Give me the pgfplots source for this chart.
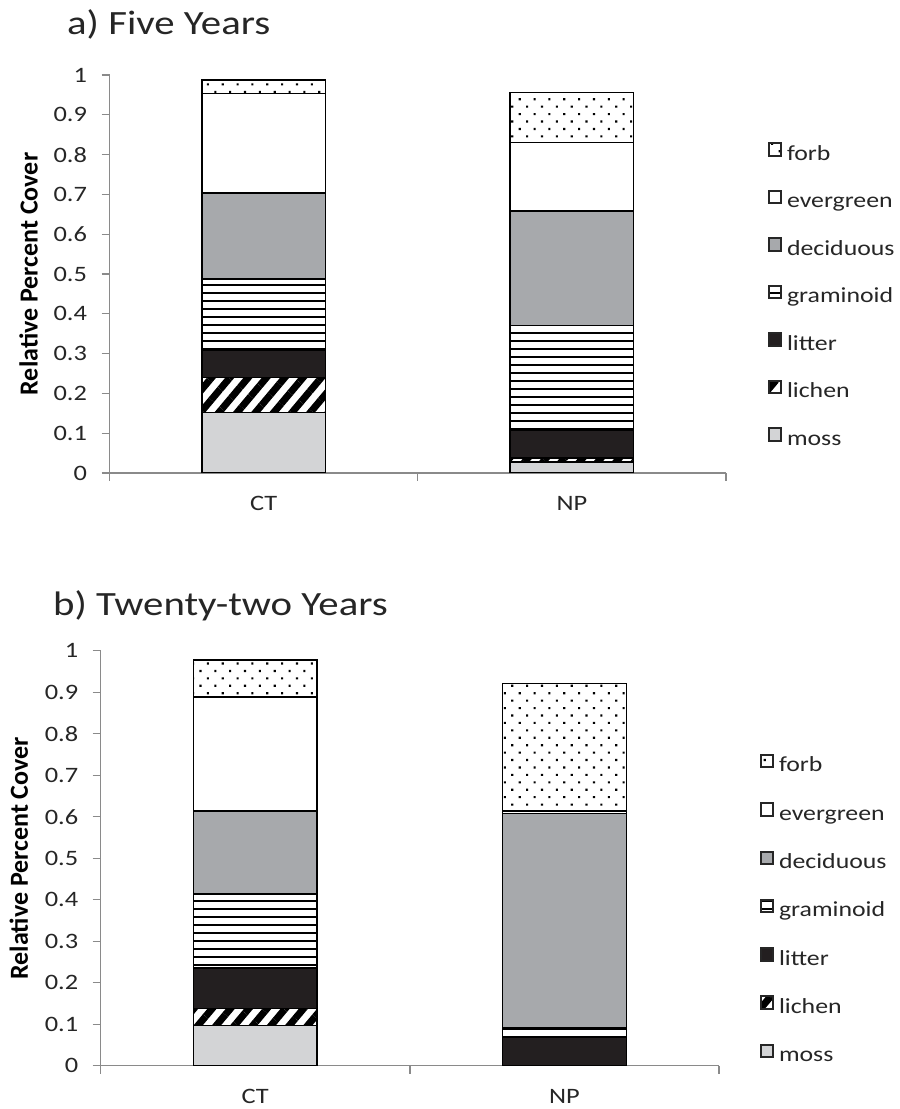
\documentclass[border=0pt]{standalone}
\usepackage{pgfplots}
\pgfplotsset{compat=1.18}
\usepackage{fontspec}
\setmainfont{Carlito}[FakeStretch=1.2]
\newfontfamily\labfont{Carlito}
\usetikzlibrary{patterns.meta}
\definecolor{decid}{HTML}{A7A9AC}
\definecolor{mossc}{HTML}{D3D4D6}
\definecolor{litc}{HTML}{231F20}
\definecolor{axc}{HTML}{8A8A8A}
\pgfplotsset{
  leg/.style={legend image code/.code={\draw[##1, line width=2bp, draw=black!85] (0bp,-1bp) rectangle (12.5bp,11.5bp);}},
  base/.style={
    ybar stacked, bar width=0.4,
    scale only axis, anchor=south west,
    xmin=0.5, xmax=2.5, ymin=0, ymax=1,
    axis lines=left, axis line style={-, draw=axc, line width=1.3bp},
    tick align=outside,
    xtick={1,2}, xticklabels={CT,NP},
    xtick style={draw=none},
    extra x ticks={0.5,1.5,2.5}, extra x tick labels={},
    extra x tick style={xtick style={draw=axc, line width=1.3bp}},
    major tick length=8bp,
    ytick={0,0.1,0.2,0.3,0.4,0.5,0.6,0.7,0.8,0.9,1},
    yticklabels={0,0.1,0.2,0.3,0.4,0.5,0.6,0.7,0.8,0.9,1},
    ytick style={draw=axc, line width=1.3bp},
    tick label style={font=\fontsize{22bp}{26bp}\selectfont, text=black!85},
    yticklabel style={xshift=-11bp},
    xticklabel style={yshift=-12bp},
    ylabel={Relative Percent Cover},
    ylabel style={anchor=center, font=\labfont\bfseries\fontsize{26bp}{30bp}\selectfont},
    title style={at={(0,1)}, anchor=base west, inner sep=0pt, font=\fontsize{34bp}{38bp}\selectfont, text=black!85},
    reverse legend,
    legend cell align=left,
    legend style={draw=none, fill=none, anchor=north west, inner sep=0pt, column sep=5bp,
      font=\fontsize{21.5bp}{25bp}\selectfont,
      nodes={inner sep=0pt, text height=15bp, text depth=4bp, text=black!85}},
    every axis plot/.append style={draw=black, line width=1.5bp},
  },
  moss/.style={fill=mossc, leg},
  lichen/.style={pattern={Lines[angle=50, distance=14bp, line width=7bp]}, pattern color=black, leg},
  litter/.style={fill=litc, leg},
  gram/.style={pattern={Lines[angle=0, distance=8bp, line width=2.8bp]}, pattern color=black, leg},
  decid/.style={fill=decid, leg},
  ever/.style={fill=white, leg},
  forb/.style={pattern={Dots[angle=45, distance=10.5bp, radius=1.5bp]}, pattern color=black, leg},
}
\begin{document}
\begin{tikzpicture}
\useasboundingbox (0bp,0bp) rectangle (900bp,1109bp);
% a) Five Years
\begin{axis}[base, at={(109.5bp,636bp)}, width=616.5bp, height=398bp,
  title={a) Five Years}, title style={xshift=-42.5bp, yshift=35bp},
  ylabel style={at={(axis description cs:-0.1314,0.5)}},
  legend style={at={(axis description cs:1.067,0.8317)}, row sep=25.5bp}]
\addplot[moss]   coordinates {(1,0.152) (2,0.028)};
\addplot[lichen] coordinates {(1,0.088) (2,0.010)};
\addplot[litter] coordinates {(1,0.069) (2,0.070)};
\addplot[gram]   coordinates {(1,0.178) (2,0.262)};
\addplot[decid]  coordinates {(1,0.216) (2,0.288)};
\addplot[ever]   coordinates {(1,0.250) (2,0.173)};
\addplot[forb]   coordinates {(1,0.034) (2,0.125)};
\legend{moss,lichen,litter,graminoid,deciduous,evergreen,forb}
\end{axis}
% b) Twenty-two Years
\begin{axis}[base, at={(100.7bp,43.3bp)}, width=618.3bp, height=415bp,
  title={b) Twenty-two Years}, title style={xshift=-47.7bp, yshift=29bp},
  ylabel style={at={(axis description cs:-0.1326,0.5)}},
  legend style={at={(axis description cs:1.0652,0.7518)}, row sep=26.3bp}]
\addplot[moss]   coordinates {(1,0.097) (2,0)};
\addplot[lichen] coordinates {(1,0.041) (2,0)};
\addplot[litter] coordinates {(1,0.097) (2,0.068)};
\addplot[gram]   coordinates {(1,0.179) (2,0.024)};
\addplot[decid]  coordinates {(1,0.200) (2,0.516)};
\addplot[ever]   coordinates {(1,0.275) (2,0.006)};
\addplot[forb]   coordinates {(1,0.088) (2,0.307)};
\legend{moss,lichen,litter,graminoid,deciduous,evergreen,forb}
\end{axis}
\end{tikzpicture}
\end{document}
